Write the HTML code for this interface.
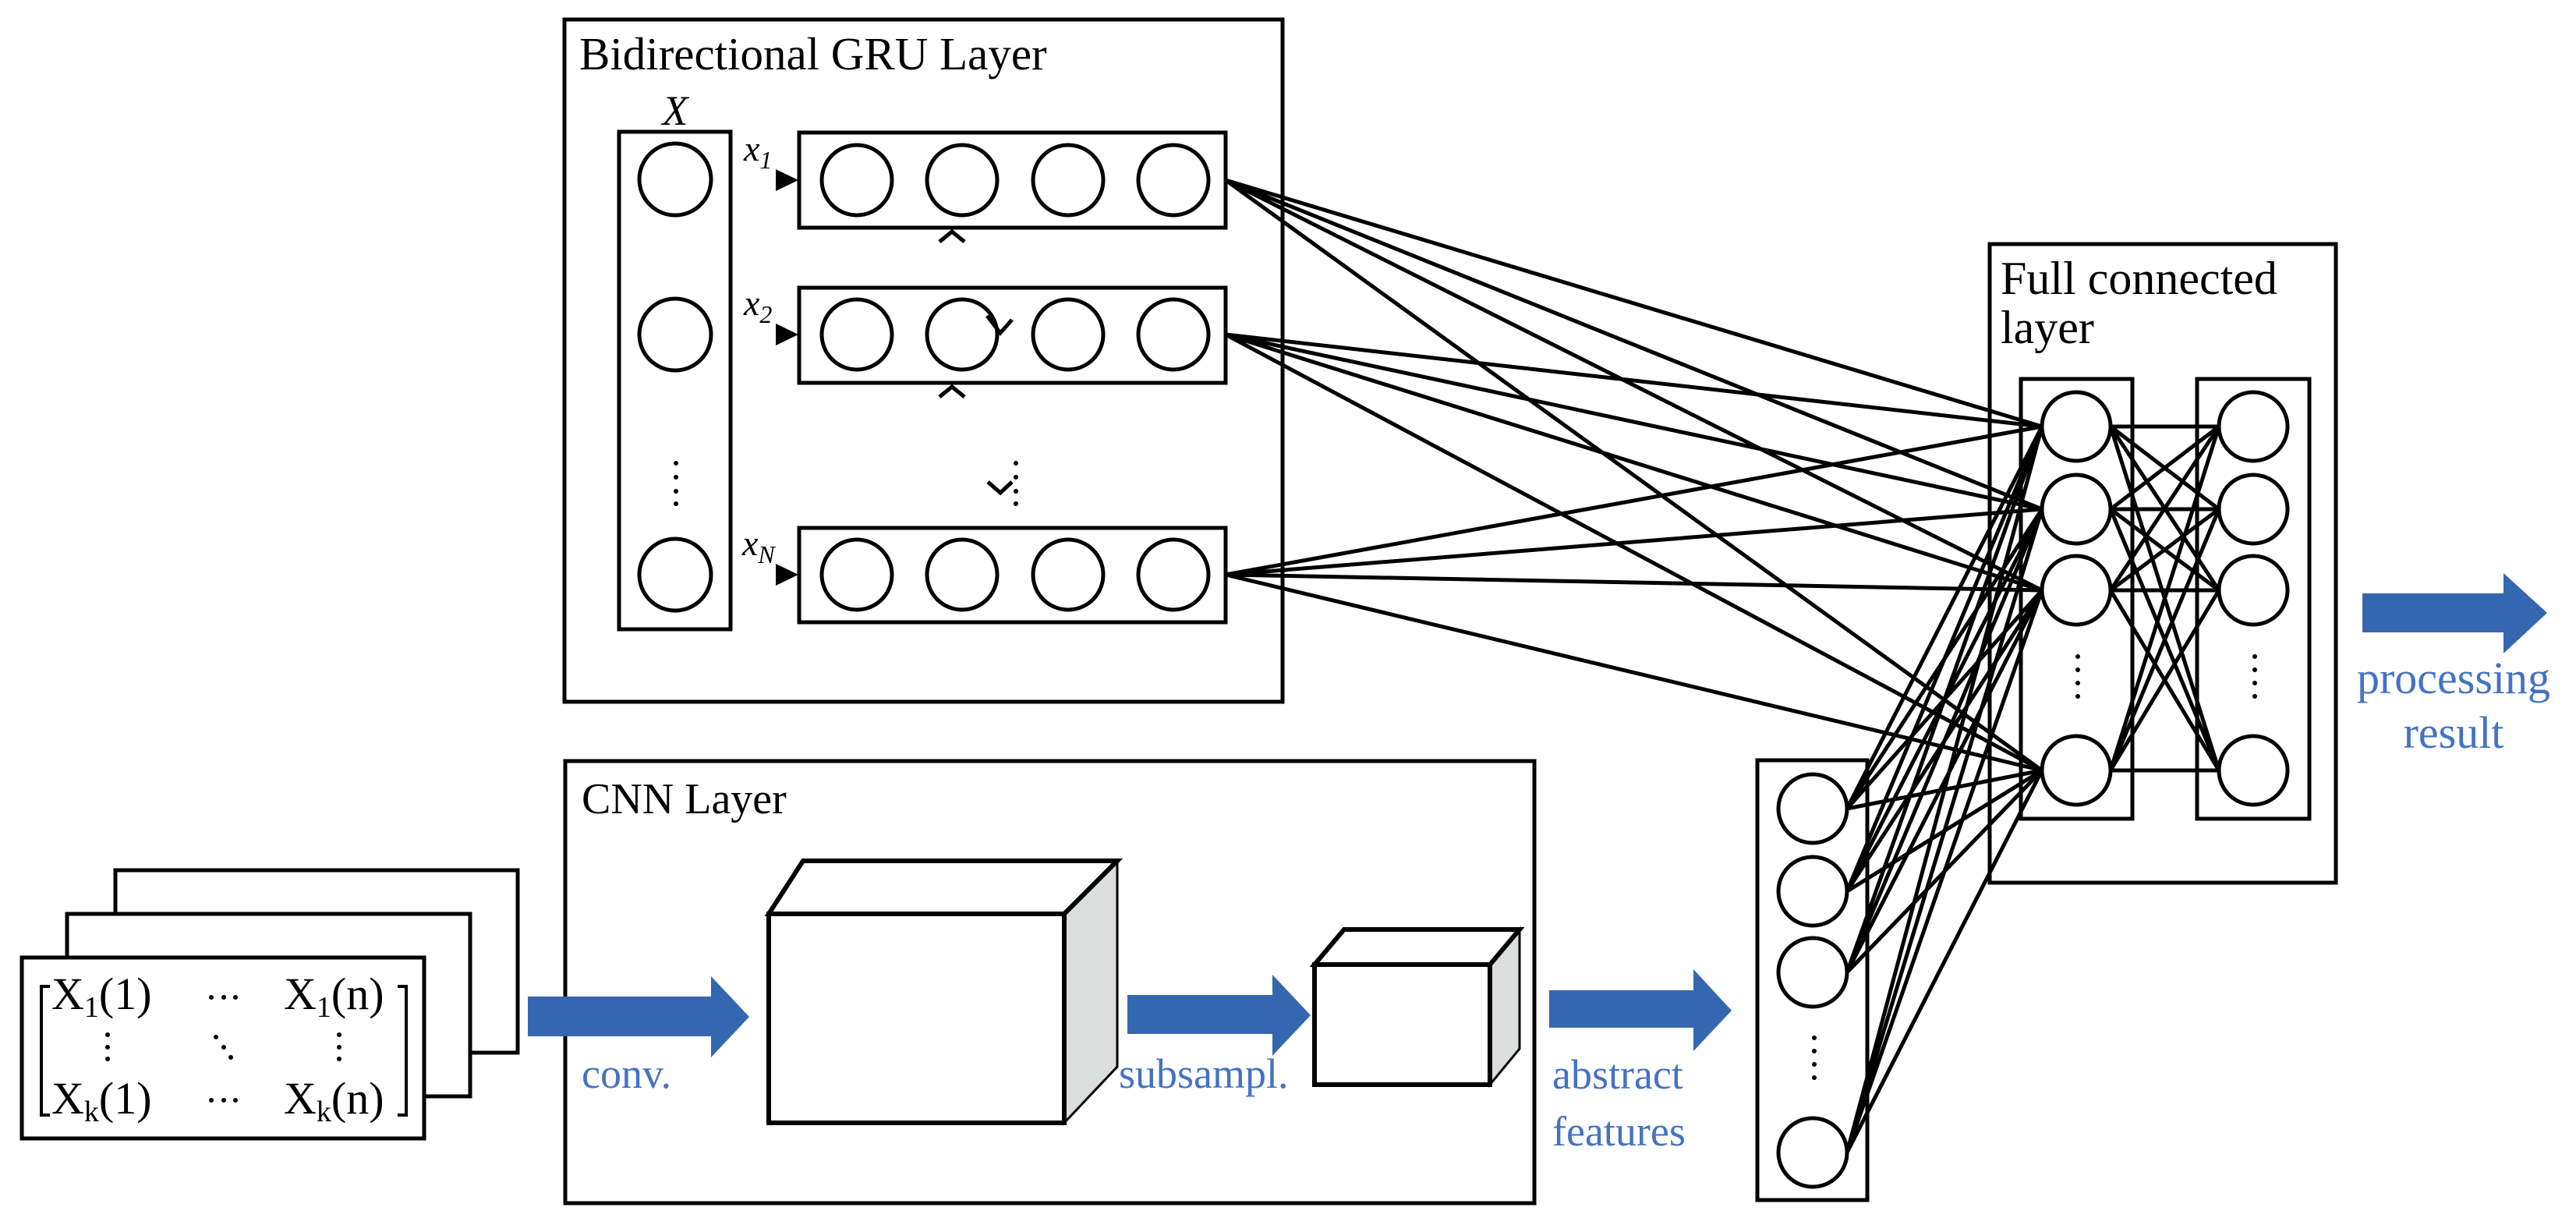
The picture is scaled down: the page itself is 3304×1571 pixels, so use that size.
<!DOCTYPE html>
<html><head><meta charset="utf-8"><style>
html,body{margin:0;padding:0;background:#fff;}
svg{display:block;}
text{font-family:"Liberation Serif",serif;}
</style></head><body>
<svg width="3304" height="1571" viewBox="0 0 3304 1571" xmlns="http://www.w3.org/2000/svg">
<rect width="3304" height="1571" fill="#fff"/>
<g fill="none" stroke="#000" stroke-width="5">
<g stroke-width="5">
<path d="M1572 231L2619 547M1572 231L2619 653M1572 231L2619 757M1572 231L2619 988
M1572 429L2619 547M1572 429L2619 653M1572 429L2619 757M1572 429L2619 988
M1572 737L2619 547M1572 737L2619 653M1572 737L2619 757M1572 737L2619 988"/>
<path d="M2369 1037L2619 547M2369 1037L2619 653M2369 1037L2619 757M2369 1037L2619 988
M2369 1143L2619 547M2369 1143L2619 653M2369 1143L2619 757M2369 1143L2619 988
M2369 1247L2619 547M2369 1247L2619 653M2369 1247L2619 757M2369 1247L2619 988
M2369 1478L2619 547M2369 1478L2619 653M2369 1478L2619 757M2369 1478L2619 988"/>
<path d="M2707 547L2846 547M2707 547L2846 653M2707 547L2846 757M2707 547L2846 988
M2707 653L2846 547M2707 653L2846 653M2707 653L2846 757M2707 653L2846 988
M2707 757L2846 547M2707 757L2846 653M2707 757L2846 757M2707 757L2846 988
M2707 988L2846 547M2707 988L2846 653M2707 988L2846 757M2707 988L2846 988"/>
</g>
<rect x="724" y="25" width="921" height="875"/>
<rect x="794" y="169" width="143" height="638"/>
<rect x="1025" y="170" width="547" height="122"/>
<rect x="1025" y="369" width="547" height="122"/>
<rect x="1025" y="677" width="547" height="121"/>
</g>
<g fill="#fff" stroke="#000" stroke-width="5">
<circle cx="866" cy="230" r="46"/><circle cx="866" cy="429" r="46"/><circle cx="866" cy="737" r="46"/>
<circle cx="1099" cy="231" r="45"/><circle cx="1234" cy="231" r="45"/><circle cx="1370" cy="231" r="45"/><circle cx="1505" cy="231" r="45"/>
<circle cx="1099" cy="429" r="45"/><circle cx="1234" cy="429" r="45"/><circle cx="1370" cy="429" r="45"/><circle cx="1505" cy="429" r="45"/>
<circle cx="1099" cy="737" r="45"/><circle cx="1234" cy="737" r="45"/><circle cx="1370" cy="737" r="45"/><circle cx="1505" cy="737" r="45"/>
</g>
<g fill="#000">
<path d="M995 217L1024 231L995 245Z"/><path d="M995 415L1024 429L995 443Z"/><path d="M995 723L1024 737L995 751Z"/>
<circle cx="867" cy="594" r="3"/><circle cx="867" cy="612" r="3"/><circle cx="867" cy="630" r="3"/><circle cx="867" cy="646" r="3"/>
<circle cx="1303" cy="594" r="3"/><circle cx="1303" cy="612" r="3"/><circle cx="1303" cy="630" r="3"/><circle cx="1303" cy="646" r="3"/>
</g>
<g fill="none" stroke="#000" stroke-width="5">
<path d="M1205 310L1221 297L1237 310"/>
<path d="M1205 509L1221 496L1237 509"/>
<path d="M1267 618L1283 632L1298 618"/>
<path d="M1266 405L1283 427L1298 410"/>
</g>
<text x="743" y="89" font-size="59">Bidirectional GRU Layer</text>
<text x="866" y="160" font-size="54" font-style="italic" text-anchor="middle">X</text>
<text x="954" y="206" font-size="46" font-style="italic">x<tspan font-size="32" dy="10">1</tspan></text>
<text x="954" y="404" font-size="46" font-style="italic">x<tspan font-size="32" dy="10">2</tspan></text>
<text x="952" y="712" font-size="46" font-style="italic">x<tspan font-size="32" dy="10">N</tspan></text>

<g fill="none" stroke="#000" stroke-width="5">
<rect x="2552" y="313" width="444" height="819"/>
<rect x="2592" y="486" width="143" height="564"/>
<rect x="2818" y="486" width="144" height="564"/>
<rect x="2254" y="975" width="141" height="564"/>
</g>
<g fill="#fff" stroke="#000" stroke-width="5">
<circle cx="2663" cy="547" r="44"/><circle cx="2663" cy="653" r="44"/><circle cx="2663" cy="757" r="44"/><circle cx="2663" cy="988" r="44"/>
<circle cx="2890" cy="547" r="44"/><circle cx="2890" cy="653" r="44"/><circle cx="2890" cy="757" r="44"/><circle cx="2890" cy="988" r="44"/>
<circle cx="2325" cy="1037" r="44"/><circle cx="2325" cy="1143" r="44"/><circle cx="2325" cy="1247" r="44"/><circle cx="2325" cy="1478" r="44"/>
</g>
<g fill="#000">
<circle cx="2665" cy="842" r="3"/><circle cx="2665" cy="859" r="3"/><circle cx="2665" cy="876" r="3"/><circle cx="2665" cy="893" r="3"/>
<circle cx="2892" cy="842" r="3"/><circle cx="2892" cy="859" r="3"/><circle cx="2892" cy="876" r="3"/><circle cx="2892" cy="893" r="3"/>
<circle cx="2327" cy="1331" r="3"/><circle cx="2327" cy="1348" r="3"/><circle cx="2327" cy="1365" r="3"/><circle cx="2327" cy="1382" r="3"/>
</g>
<text x="2566" y="377" font-size="60">Full connected</text>
<text x="2566" y="440" font-size="60">layer</text>
<path d="M3030 761H3211V735L3267 786L3211 838V811H3030Z" fill="#3467b0"/>
<text x="3147" y="889" font-size="58" fill="#4472c4" text-anchor="middle">processing</text>
<text x="3147" y="959" font-size="58" fill="#4472c4" text-anchor="middle">result</text>

<g fill="none" stroke="#000" stroke-width="5">
<rect x="725" y="976" width="1243" height="567"/>
</g>
<g fill="#fff" stroke="#000" stroke-width="5">
<rect x="148" y="1116" width="516" height="234"/>
<rect x="86" y="1172" width="517" height="234"/>
<rect x="28" y="1228" width="516" height="232"/>
</g>
<text x="746" y="1043" font-size="56">CNN Layer</text>
<g font-size="58">
<text x="66" y="1294">X<tspan font-size="38" dy="10">1</tspan><tspan dy="-10">(1)</tspan></text>
<text x="364" y="1294">X<tspan font-size="38" dy="10">1</tspan><tspan dy="-10">(n)</tspan></text>
<text x="66" y="1428">X<tspan font-size="38" dy="10">k</tspan><tspan dy="-10">(1)</tspan></text>
<text x="364" y="1428">X<tspan font-size="38" dy="10">k</tspan><tspan dy="-10">(n)</tspan></text>
</g>
<g fill="#000">
<circle cx="271" cy="1279" r="3"/><circle cx="287" cy="1279" r="3"/><circle cx="302" cy="1279" r="3"/>
<circle cx="271" cy="1411" r="3"/><circle cx="287" cy="1411" r="3"/><circle cx="302" cy="1411" r="3"/>
<circle cx="138" cy="1327" r="3"/><circle cx="138" cy="1343" r="3"/><circle cx="138" cy="1358" r="3"/>
<circle cx="435" cy="1327" r="3"/><circle cx="435" cy="1343" r="3"/><circle cx="435" cy="1358" r="3"/>
<circle cx="277" cy="1330" r="3"/><circle cx="287" cy="1343" r="3"/><circle cx="296" cy="1356" r="3"/>
</g>
<g fill="none" stroke="#000" stroke-width="4">
<path d="M64 1265H53V1430H64"/><path d="M510 1265H521V1430H510"/>
</g>
<path d="M677 1278H912V1252L961 1304L912 1356V1329H677Z" fill="#3467b0"/>
<path d="M1446 1276H1632V1250L1681 1302L1632 1354V1326H1446Z" fill="#3467b0"/>
<path d="M1987 1270H2172V1243L2221 1296L2172 1348V1318H1987Z" fill="#3467b0"/>
<g stroke="#000" stroke-width="6">
<path d="M1365 1172L1433 1104V1368L1365 1440Z" fill="#dcdddd" stroke-width="3"/>
<path d="M986 1172L1030 1104H1433L1365 1172Z" fill="#fff"/>
<rect x="986" y="1172" width="379" height="268" fill="#fff"/>
<path d="M1911 1237L1949 1192V1345L1911 1391Z" fill="#dcdddd" stroke-width="3"/>
<path d="M1686 1237L1724 1192H1949L1911 1237Z" fill="#fff"/>
<rect x="1686" y="1237" width="225" height="154" fill="#fff"/>
</g>
<g fill="#4472c4" font-size="54">
<text x="746" y="1395">conv.</text>
<text x="1435" y="1395">subsampl.</text>
<text x="1991" y="1396">abstract</text>
<text x="1991" y="1469">features</text>
</g>
</svg>
</body></html>
